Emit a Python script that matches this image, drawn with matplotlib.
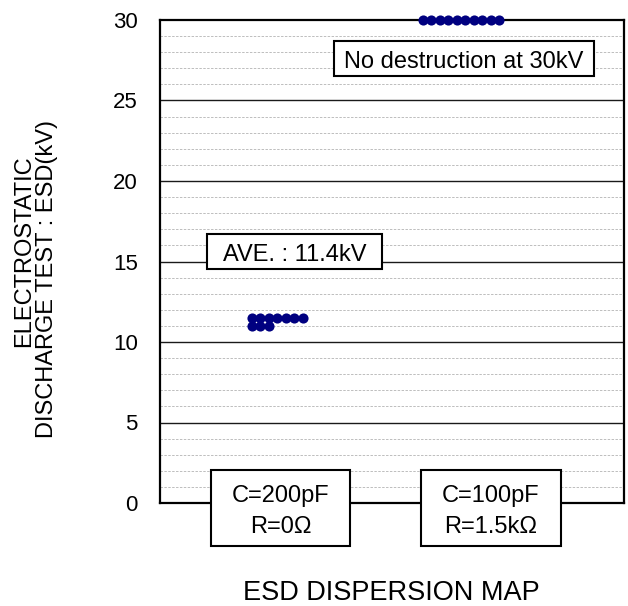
import matplotlib
matplotlib.use("Agg")
import matplotlib.pyplot as plt
from matplotlib.patches import Rectangle
from collections import Counter

plt.rcParams['font.family'] = ['Liberation Sans', 'DejaVu Sans']

# ESD withstand voltage of each sample (kV)
conditions = ["C=200pF\nR=0\u03a9", "C=100pF\nR=1.5k\u03a9"]
esd_200pF_0ohm = [11.5, 11.5, 11.5, 11.5, 11.5, 11.5, 11.5, 11.0, 11.0, 11.0]
esd_100pF_1k5ohm = [30, 30, 30, 30, 30, 30, 30, 30, 30, 30]
yticks = [0, 5, 10, 15, 20, 25, 30]
average_label = "AVE. : 11.4kV"
limit_label = "No destruction at 30kV"
xlabel = "ESD DISPERSION MAP"
ylabel_lines = ["ELECTROSTATIC", "DISCHARGE TEST : ESD(kV)"]

W, H = 628, 606
fig = plt.figure(figsize=(W / 100, H / 100), dpi=100)
ax = fig.add_axes([160 / W, 1 - 503 / H, 464 / W, 483 / H])


def fpx(x, y):
    """pixel position (from top-left) -> figure fraction"""
    return x / W, 1 - y / H


ax.set_xlim(0, 1)
ax.set_ylim(0, 30)
ax.set_xticks([])
ax.set_yticks(yticks)
ax.set_yticklabels([str(v) for v in yticks], fontsize=16)
ax.tick_params(axis='y', length=0, pad=16)

# grid: every 1 kV dotted, every 5 kV solid
for v in range(1, 30):
    if v % 5 == 0:
        ax.axhline(v, color='#1a1a1a', lw=1.0, zorder=1)
    else:
        ax.axhline(v, color='#bdbdbd', lw=0.7, ls=(0, (2.5, 1.5)), zorder=1)

for s in ax.spines.values():
    s.set_linewidth(1.6)
    s.set_color('black')

# dot map: repeated values are stacked side by side
group_start = [0.1976, 0.5668]
step = 8.5 / 464
for start, values in zip(group_start, [esd_200pF_0ohm, esd_100pF_1k5ohm]):
    counts = Counter()
    xs, ys = [], []
    for v in values:
        xs.append(start + counts[v] * step)
        ys.append(v)
        counts[v] += 1
    ax.plot(xs, ys, 'o', color='#000080', markersize=7.3, markeredgewidth=0,
            clip_on=False, zorder=5)


def boxed(x0, y0, x1, y1):
    (fx0, fy0), (fx1, fy1) = fpx(x0, y1), fpx(x1, y0)
    r = Rectangle((fx0, fy0), fx1 - fx0, fy1 - fy0, transform=fig.transFigure,
                  facecolor='white', edgecolor='black', lw=1.5, zorder=3)
    fig.add_artist(r)


# annotation boxes
boxed(334, 41, 594, 76)
fig.text(*fpx(464, 67.7), limit_label, fontsize=17, ha='center', va='baseline', zorder=4)
boxed(207, 234, 382, 269)
fig.text(*fpx(294.5, 261), average_label, fontsize=17, ha='center', va='baseline', zorder=4)

# condition boxes under the axis
for (x0, x1), label in zip([(211, 350), (421, 561)], conditions):
    boxed(x0, 470, x1, 546)
    top, bottom = label.split("\n")
    cx = (x0 + x1) / 2
    fig.text(*fpx(cx, 502), top, fontsize=17, ha='center', va='baseline', zorder=4)
    fig.text(*fpx(cx, 533), bottom, fontsize=17, ha='center', va='baseline', zorder=4)

# axis titles
fig.text(*fpx(391, 593), xlabel, fontsize=19.5, ha='center', va='center')
fig.text(*fpx(24, 251), ylabel_lines[0], fontsize=17, rotation=90, ha='center', va='center')
fig.text(*fpx(47, 279), ylabel_lines[1], fontsize=17, rotation=90, ha='center', va='center')

fig.savefig("out.png", dpi=100)
